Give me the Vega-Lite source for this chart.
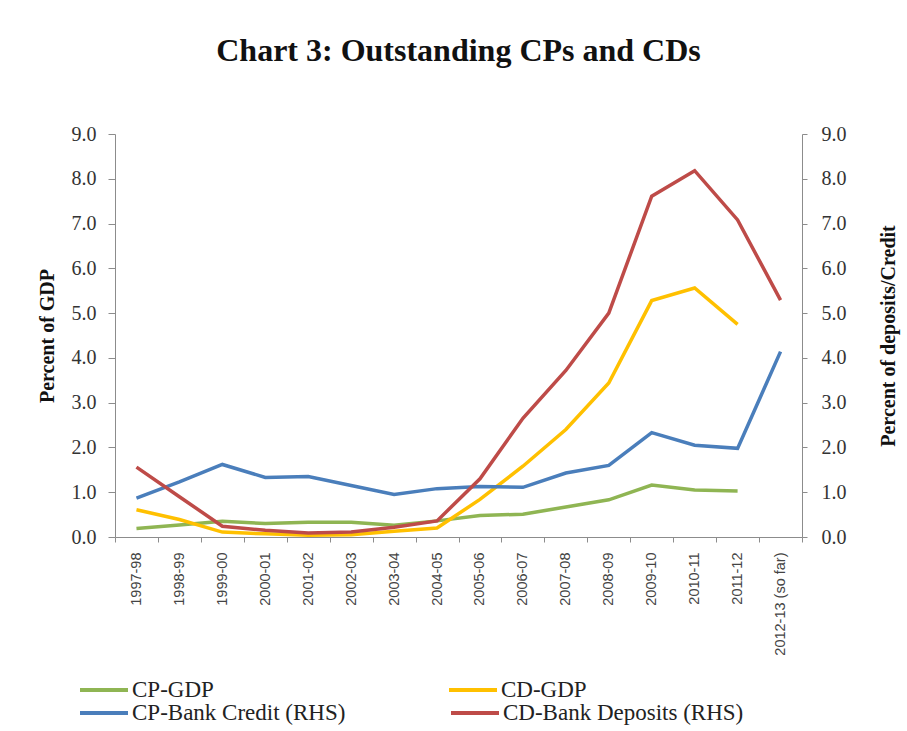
{
  "$schema": "https://vega.github.io/schema/vega-lite/v6.json",
  "width": 687,
  "height": 403,
  "autosize": {"type": "none"},
  "padding": {"left": 115, "top": 134, "right": 105, "bottom": 194},
  "background": "white",
  "title": {"text": "Chart 3: Outstanding CPs and CDs", "font": "Liberation Serif", "fontSize": 32, "fontWeight": "bold", "color": "#111111", "anchor": "middle", "offset": 31, "baseline": "alphabetic"},
  "config": {"view": {"stroke": null}},
  "data": {"values": [
    {"year": "1997-98", "series": "CP-GDP", "value": 0.19},
    {"year": "1998-99", "series": "CP-GDP", "value": 0.27},
    {"year": "1999-00", "series": "CP-GDP", "value": 0.35},
    {"year": "2000-01", "series": "CP-GDP", "value": 0.30},
    {"year": "2001-02", "series": "CP-GDP", "value": 0.33},
    {"year": "2002-03", "series": "CP-GDP", "value": 0.33},
    {"year": "2003-04", "series": "CP-GDP", "value": 0.26},
    {"year": "2004-05", "series": "CP-GDP", "value": 0.36},
    {"year": "2005-06", "series": "CP-GDP", "value": 0.48},
    {"year": "2006-07", "series": "CP-GDP", "value": 0.51},
    {"year": "2007-08", "series": "CP-GDP", "value": 0.67},
    {"year": "2008-09", "series": "CP-GDP", "value": 0.83},
    {"year": "2009-10", "series": "CP-GDP", "value": 1.16},
    {"year": "2010-11", "series": "CP-GDP", "value": 1.05},
    {"year": "2011-12", "series": "CP-GDP", "value": 1.03},
    {"year": "1997-98", "series": "CD-GDP", "value": 0.61},
    {"year": "1998-99", "series": "CD-GDP", "value": 0.39},
    {"year": "1999-00", "series": "CD-GDP", "value": 0.11},
    {"year": "2000-01", "series": "CD-GDP", "value": 0.07},
    {"year": "2001-02", "series": "CD-GDP", "value": 0.04},
    {"year": "2002-03", "series": "CD-GDP", "value": 0.05},
    {"year": "2003-04", "series": "CD-GDP", "value": 0.13},
    {"year": "2004-05", "series": "CD-GDP", "value": 0.20},
    {"year": "2005-06", "series": "CD-GDP", "value": 0.84},
    {"year": "2006-07", "series": "CD-GDP", "value": 1.58},
    {"year": "2007-08", "series": "CD-GDP", "value": 2.40},
    {"year": "2008-09", "series": "CD-GDP", "value": 3.44},
    {"year": "2009-10", "series": "CD-GDP", "value": 5.28},
    {"year": "2010-11", "series": "CD-GDP", "value": 5.56},
    {"year": "2011-12", "series": "CD-GDP", "value": 4.75},
    {"year": "1997-98", "series": "CP-Bank Credit (RHS)", "value": 0.87},
    {"year": "1998-99", "series": "CP-Bank Credit (RHS)", "value": 1.23},
    {"year": "1999-00", "series": "CP-Bank Credit (RHS)", "value": 1.62},
    {"year": "2000-01", "series": "CP-Bank Credit (RHS)", "value": 1.33},
    {"year": "2001-02", "series": "CP-Bank Credit (RHS)", "value": 1.35},
    {"year": "2002-03", "series": "CP-Bank Credit (RHS)", "value": 1.15},
    {"year": "2003-04", "series": "CP-Bank Credit (RHS)", "value": 0.95},
    {"year": "2004-05", "series": "CP-Bank Credit (RHS)", "value": 1.08},
    {"year": "2005-06", "series": "CP-Bank Credit (RHS)", "value": 1.13},
    {"year": "2006-07", "series": "CP-Bank Credit (RHS)", "value": 1.11},
    {"year": "2007-08", "series": "CP-Bank Credit (RHS)", "value": 1.43},
    {"year": "2008-09", "series": "CP-Bank Credit (RHS)", "value": 1.60},
    {"year": "2009-10", "series": "CP-Bank Credit (RHS)", "value": 2.33},
    {"year": "2010-11", "series": "CP-Bank Credit (RHS)", "value": 2.05},
    {"year": "2011-12", "series": "CP-Bank Credit (RHS)", "value": 1.98},
    {"year": "2012-13 (so far)", "series": "CP-Bank Credit (RHS)", "value": 4.14},
    {"year": "1997-98", "series": "CD-Bank Deposits (RHS)", "value": 1.56},
    {"year": "1998-99", "series": "CD-Bank Deposits (RHS)", "value": 0.90},
    {"year": "1999-00", "series": "CD-Bank Deposits (RHS)", "value": 0.24},
    {"year": "2000-01", "series": "CD-Bank Deposits (RHS)", "value": 0.15},
    {"year": "2001-02", "series": "CD-Bank Deposits (RHS)", "value": 0.09},
    {"year": "2002-03", "series": "CD-Bank Deposits (RHS)", "value": 0.11},
    {"year": "2003-04", "series": "CD-Bank Deposits (RHS)", "value": 0.22},
    {"year": "2004-05", "series": "CD-Bank Deposits (RHS)", "value": 0.36},
    {"year": "2005-06", "series": "CD-Bank Deposits (RHS)", "value": 1.30},
    {"year": "2006-07", "series": "CD-Bank Deposits (RHS)", "value": 2.65},
    {"year": "2007-08", "series": "CD-Bank Deposits (RHS)", "value": 3.72},
    {"year": "2008-09", "series": "CD-Bank Deposits (RHS)", "value": 5.00},
    {"year": "2009-10", "series": "CD-Bank Deposits (RHS)", "value": 7.61},
    {"year": "2010-11", "series": "CD-Bank Deposits (RHS)", "value": 8.18},
    {"year": "2011-12", "series": "CD-Bank Deposits (RHS)", "value": 7.08},
    {"year": "2012-13 (so far)", "series": "CD-Bank Deposits (RHS)", "value": 5.29}
  ]},
  "encoding": {
    "x": {
      "field": "year", "type": "ordinal", "bandPosition": 0.5,
      "scale": {"type": "band", "paddingInner": 0, "paddingOuter": 0,
        "domain": ["1997-98","1998-99","1999-00","2000-01","2001-02","2002-03","2003-04","2004-05","2005-06","2006-07","2007-08","2008-09","2009-10","2010-11","2011-12","2012-13 (so far)"]},
      "axis": {"title": null, "labelAngle": 270, "labelAlign": "right", "labelBaseline": "middle", "labelPadding": 10,
        "labelFont": "Liberation Sans", "labelFontSize": 14.5, "labelColor": "#444444",
        "tickBand": "extent", "tickSize": 5, "tickColor": "#8c8c8c", "domainColor": "#8c8c8c", "grid": false}
    }
  },
  "layer": [
    {
      "transform": [{"filter": {"field": "series", "oneOf": ["CP-GDP", "CD-GDP"]}}],
      "mark": {"type": "line", "strokeWidth": 3.5},
      "encoding": {
        "color": {
          "field": "series", "type": "nominal",
          "scale": {"domain": ["CP-GDP", "CD-GDP"], "range": ["#8FB553", "#FFC000"]},
          "legend": {"title": null, "orient": "none", "legendX": -37, "legendY": 530, "columns": 2,
            "symbolType": "stroke", "symbolSize": 2304, "symbolStrokeWidth": 4, "labelFont": "Liberation Serif",
            "labelFontSize": 23, "labelColor": "#222222", "labelOffset": 2, "labelLimit": 400, "columnPadding": 227, "direction": "horizontal"}
        },
        "y": {"field": "value", "type": "quantitative", "scale": {"domain": [0, 9], "nice": false},
          "axis": {"title": "Percent  of GDP", "values": [0,1,2,3,4,5,6,7,8,9], "format": ".1f", "grid": false,
            "tickSize": 7, "labelPadding": 12, "labelFont": "Liberation Serif", "labelFontSize": 20, "labelColor": "#333333",
            "tickColor": "#8c8c8c", "domainColor": "#8c8c8c",
            "titleFont": "Liberation Serif", "titleFontSize": 20, "titleFontWeight": "bold", "titleColor": "#111111", "titlePadding": 14}}
      }
    },
    {
      "transform": [{"filter": {"field": "series", "oneOf": ["CP-Bank Credit (RHS)", "CD-Bank Deposits (RHS)"]}}],
      "mark": {"type": "line", "strokeWidth": 3.5},
      "encoding": {
        "stroke": {
          "field": "series", "type": "nominal",
          "scale": {"domain": ["CP-Bank Credit (RHS)", "CD-Bank Deposits (RHS)"], "range": ["#4A7EBB", "#BE4B48"]},
          "legend": {"title": null, "orient": "none", "legendX": -37, "legendY": 553, "columns": 2,
            "symbolType": "stroke", "symbolSize": 2304, "symbolStrokeWidth": 4, "labelFont": "Liberation Serif",
            "labelFontSize": 23, "labelColor": "#222222", "labelOffset": 2, "labelLimit": 400, "columnPadding": 97, "direction": "horizontal"}
        },
        "y": {"field": "value", "type": "quantitative", "scale": {"domain": [0, 9], "nice": false},
          "axis": {"orient": "right", "title": "Percent  of deposits/Credit", "titleAngle": 270, "values": [0,1,2,3,4,5,6,7,8,9], "format": ".1f", "grid": false,
            "tickSize": 5, "labelPadding": 14, "labelFont": "Liberation Serif", "labelFontSize": 20, "labelColor": "#333333",
            "tickColor": "#8c8c8c", "domainColor": "#8c8c8c",
            "titleFont": "Liberation Serif", "titleFontSize": 20, "titleFontWeight": "bold", "titleColor": "#111111", "titlePadding": 52}}
      }
    }
  ],
  "resolve": {"scale": {"y": "independent"}}
}
